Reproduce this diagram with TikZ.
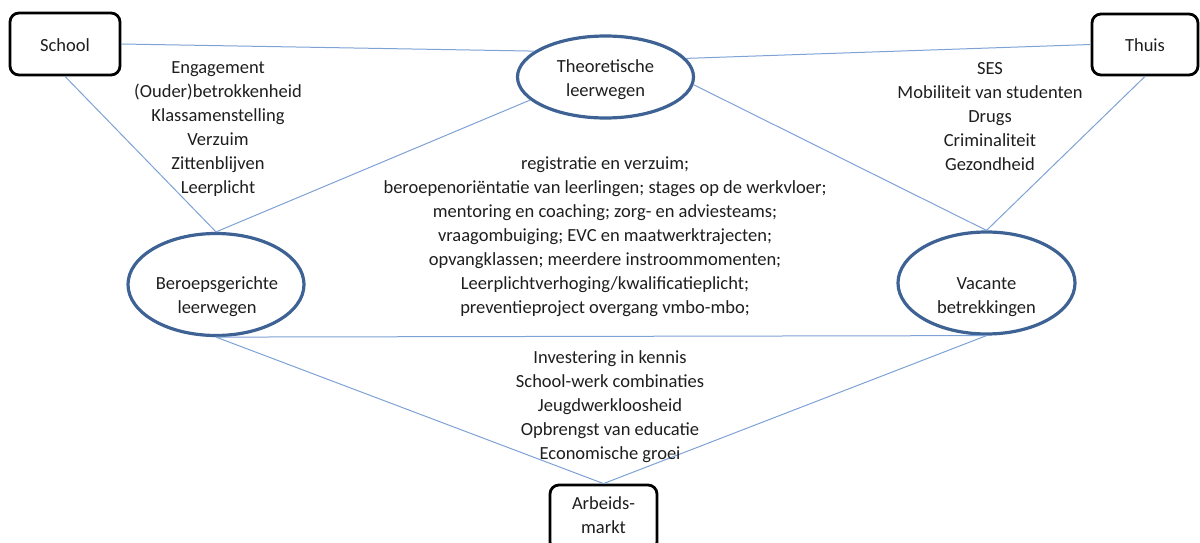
\documentclass[tikz,border=0pt]{standalone}
\usepackage{fontspec}
\setmainfont{Carlito}
\usetikzlibrary{shapes.geometric}
\definecolor{linec}{HTML}{7EA2D5}
\definecolor{ellc}{HTML}{3E6293}
\definecolor{txt}{HTML}{1E1E1E}
\begin{document}
\begin{tikzpicture}[x=1pt,y=-1pt,
  every node/.style={font=\fontsize{18.5}{24}\selectfont, text=txt, inner sep=0pt},
  boxnode/.style={draw=black, line width=2.8pt, rounded corners=9pt, align=center},
  ellnode/.style={draw=ellc, line width=3.2pt, ellipse},
  conn/.style={draw=linec, line width=1pt},
  txtblock/.style={align=center}]
\useasboundingbox (0,0) rectangle (1200,543);
\clip (0,0) rectangle (1200,543);
% boxes
\node[boxnode, minimum width=110pt, minimum height=62pt] (school) at (65,44) {};
\node[boxnode, minimum width=106pt, minimum height=61pt] (thuis) at (1145,44.5) {};
\node[boxnode, minimum width=107pt, minimum height=66pt] (arbeid) at (603.5,518) {};
\node (schoolt) at (65,45) {School};
\node (thuist) at (1145,45) {Thuis};
\node[txtblock] (arbeidt) at (603.5,515) {Arbeids-\\markt};
% ellipses
\node[ellnode, minimum width=176pt, minimum height=82pt] (theo) at (605.5,77) {};
\node[ellnode, minimum width=176pt, minimum height=102pt] (beroep) at (216,284.5) {};
\node[ellnode, minimum width=177pt, minimum height=102pt] (vac) at (986.5,283) {};
\node[txtblock] (theot) at (605.5,80) {Theoretische\\leerwegen};
\node[txtblock] (beroept) at (217,297) {Beroepsgerichte\\leerwegen};
\node[txtblock] (vact) at (986.5,297) {Vacante\\betrekkingen};
% connectors
\draw[conn] (school.east) -- (theo.160);
\draw[conn] (school.south) -- (beroep.north);
\draw[conn] (beroep.north) -- (theo.197);
\draw[conn] (theo.13) -- (thuis.west);
\draw[conn] (theo.-5) -- (vac.north);
\draw[conn] (thuis.south) -- (vac.north);
\draw[conn] (beroep.south) -- (vac.south);
\draw[conn] (beroep.south) -- (arbeid.north);
\draw[conn] (vac.south) -- (arbeid.north);
% text blocks
\node[txtblock] (schoolf) at (218,129) {Engagement\\(Ouder)betrokkenheid\\Klassamenstelling\\Verzuim\\Zittenblijven\\Leerplicht};
\node[txtblock] (thuisf) at (990,117) {SES\\Mobiliteit van studenten\\Drugs\\Criminaliteit\\Gezondheid};
\node[txtblock] (beleid) at (605,237) {registratie en verzuim;\\beroepenoriëntatie van leerlingen; stages op de werkvloer;\\mentoring en coaching; zorg- en adviesteams;\\vraagombuiging; EVC en maatwerktrajecten;\\opvangklassen; meerdere instroommomenten;\\Leerplichtverhoging/kwalificatieplicht;\\preventieproject overgang vmbo-mbo;};
\node[txtblock] (markt) at (610,406.5) {Investering in kennis\\School-werk combinaties\\Jeugdwerkloosheid\\Opbrengst van educatie\\Economische groei};
\end{tikzpicture}
\end{document}
